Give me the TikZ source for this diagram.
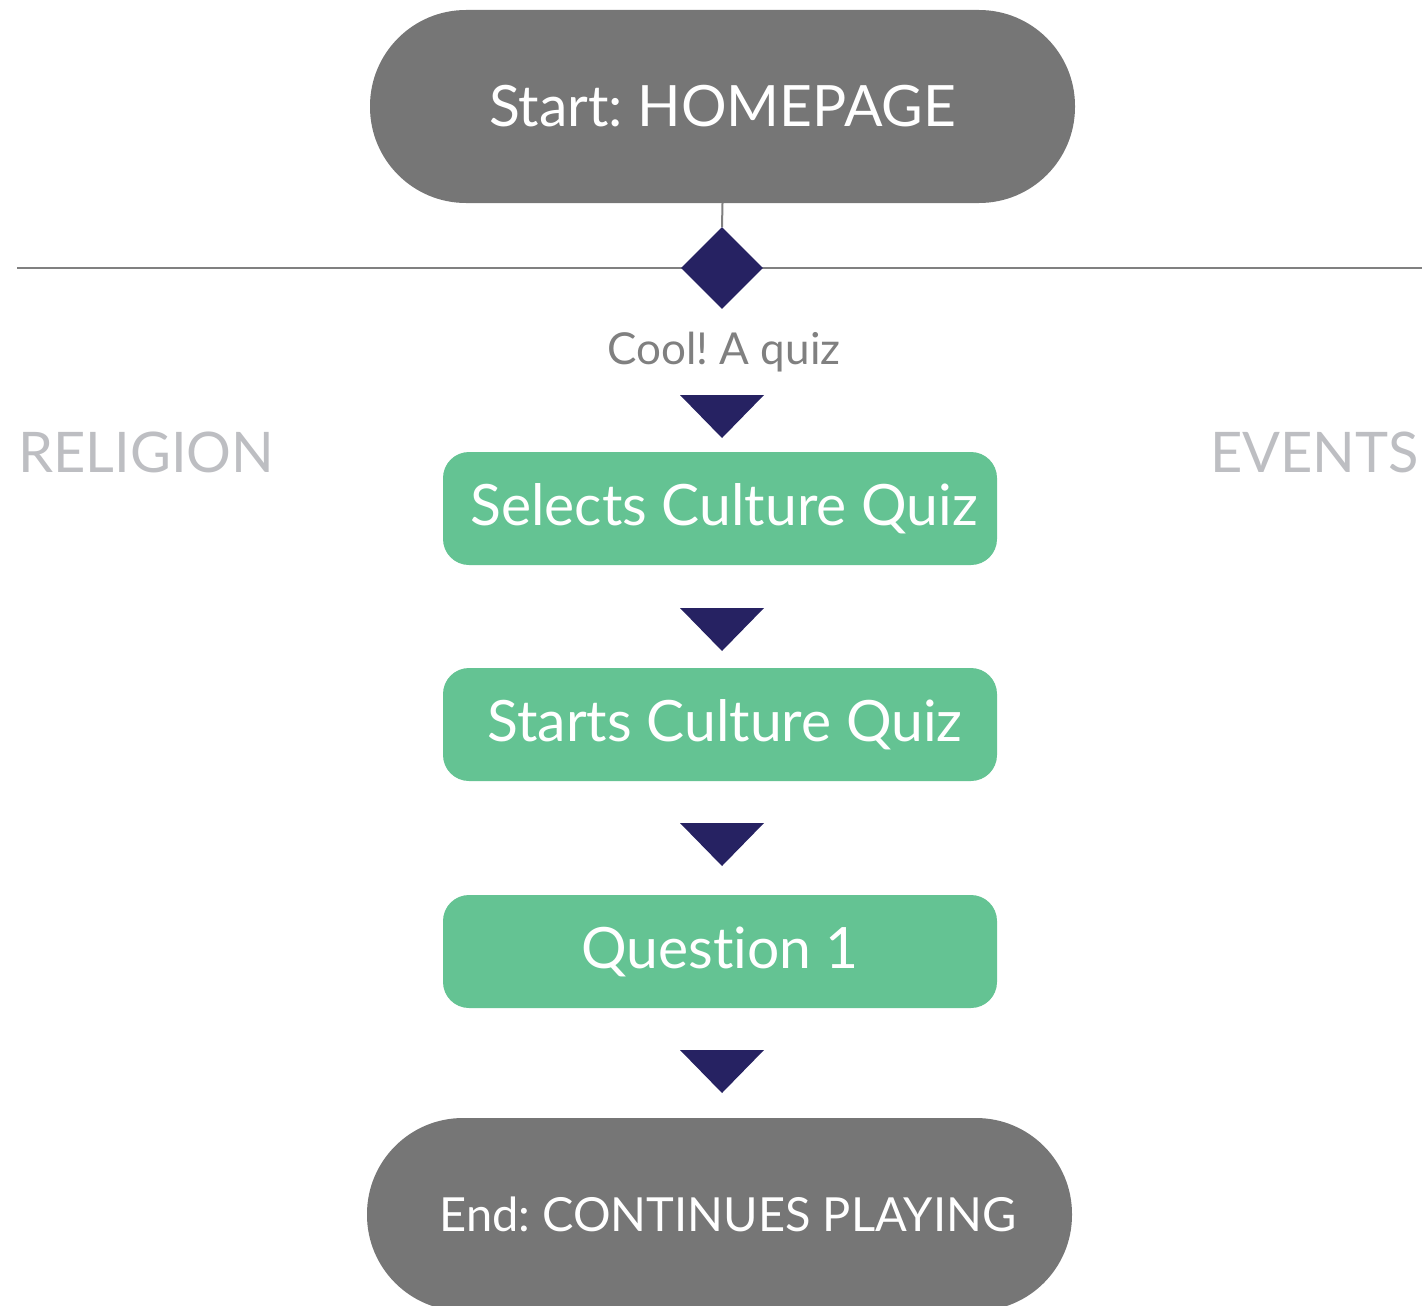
\documentclass[tikz,border=0pt]{standalone}
\usepackage{fontspec}
\setmainfont{Lato}[Ligatures={NoCommon,NoDiscretionary}]
\usetikzlibrary{shapes.geometric}
\definecolor{pillgray}{HTML}{767676}
\definecolor{stepgreen}{HTML}{64C393}
\definecolor{navy}{HTML}{262262}
\definecolor{rulegray}{HTML}{808080}
\definecolor{lanegray}{HTML}{BDBEC2}
\definecolor{notegray}{HTML}{808080}
\tikzset{
  pill/.style={fill=pillgray, text=white, rounded corners=96pt,
    minimum width=705pt, minimum height=193pt, inner sep=0pt,
    font=\fontsize{57}{62}\selectfont},
  stepbox/.style={fill=stepgreen, text=white, rounded corners=26pt,
    minimum width=554pt, minimum height=113pt, inner sep=0pt,
    font=\fontsize{57}{62}\selectfont},
  decision/.style={diamond, fill=navy, inner sep=0pt, aspect=1,
    minimum width=82pt, minimum height=82pt},
  lane/.style={text=lanegray, inner sep=0pt, font=\fontsize{56}{60}\selectfont},
  note/.style={text=notegray, inner sep=0pt, font=\fontsize{44}{48}\selectfont},
  rule/.style={draw=rulegray, line width=2pt}
}
% downward flow arrowhead hanging from a named point
\newcommand\flowtip[1]{\fill[navy] (#1) ++(-42,0) -- ++(84,0) -- ++(-42,43) -- cycle;}
\frenchspacing
\begin{document}
\begin{tikzpicture}[x=1pt, y=-1pt]
  \useasboundingbox (0,0) rectangle (1424,1306);
  \clip (0,0) rectangle (1424,1306);

  % swim-lane divider and lane titles
  \coordinate (ruleL) at (17,268);
  \coordinate (ruleR) at (1422,268);
  \draw[rule] (ruleL) -- (ruleR);
  \node[lane, anchor=west] (religion) at (18,452) {RELIGION};
  \node[lane, anchor=east] (events) at (1419,452) {EVENTS};

  % terminals
  \node[pill] (start) at (722.5,106.5) {Start: HOMEPAGE};
  \node[pill, font=\fontsize{47}{52}\selectfont] (finish) at (719.5,1214.5)
    {\hspace*{17pt}End: CONTINUES PLAYING};

  % decision point
  \node[decision] (choice) at (722,268) {};
  \draw[rule] (start.south) -- (choice.north);
  \node[note] (cool) at (724,352) {Cool! A quiz};

  % steps
  \node[stepbox] (select) at (720,508.5) {\hspace*{8pt}Selects Culture Quiz};
  \node[stepbox] (begin)  at (720,724.5) {\hspace*{10pt}Starts Culture Quiz};
  \node[stepbox] (q1)     at (720,951.5) {Question 1};

  % flow arrowheads between steps
  \coordinate (tipA) at (722,395);
  \coordinate (tipB) at (722,608);
  \coordinate (tipC) at (722,823);
  \coordinate (tipD) at (722,1050);
  \flowtip{tipA}
  \flowtip{tipB}
  \flowtip{tipC}
  \flowtip{tipD}
\end{tikzpicture}
\end{document}
